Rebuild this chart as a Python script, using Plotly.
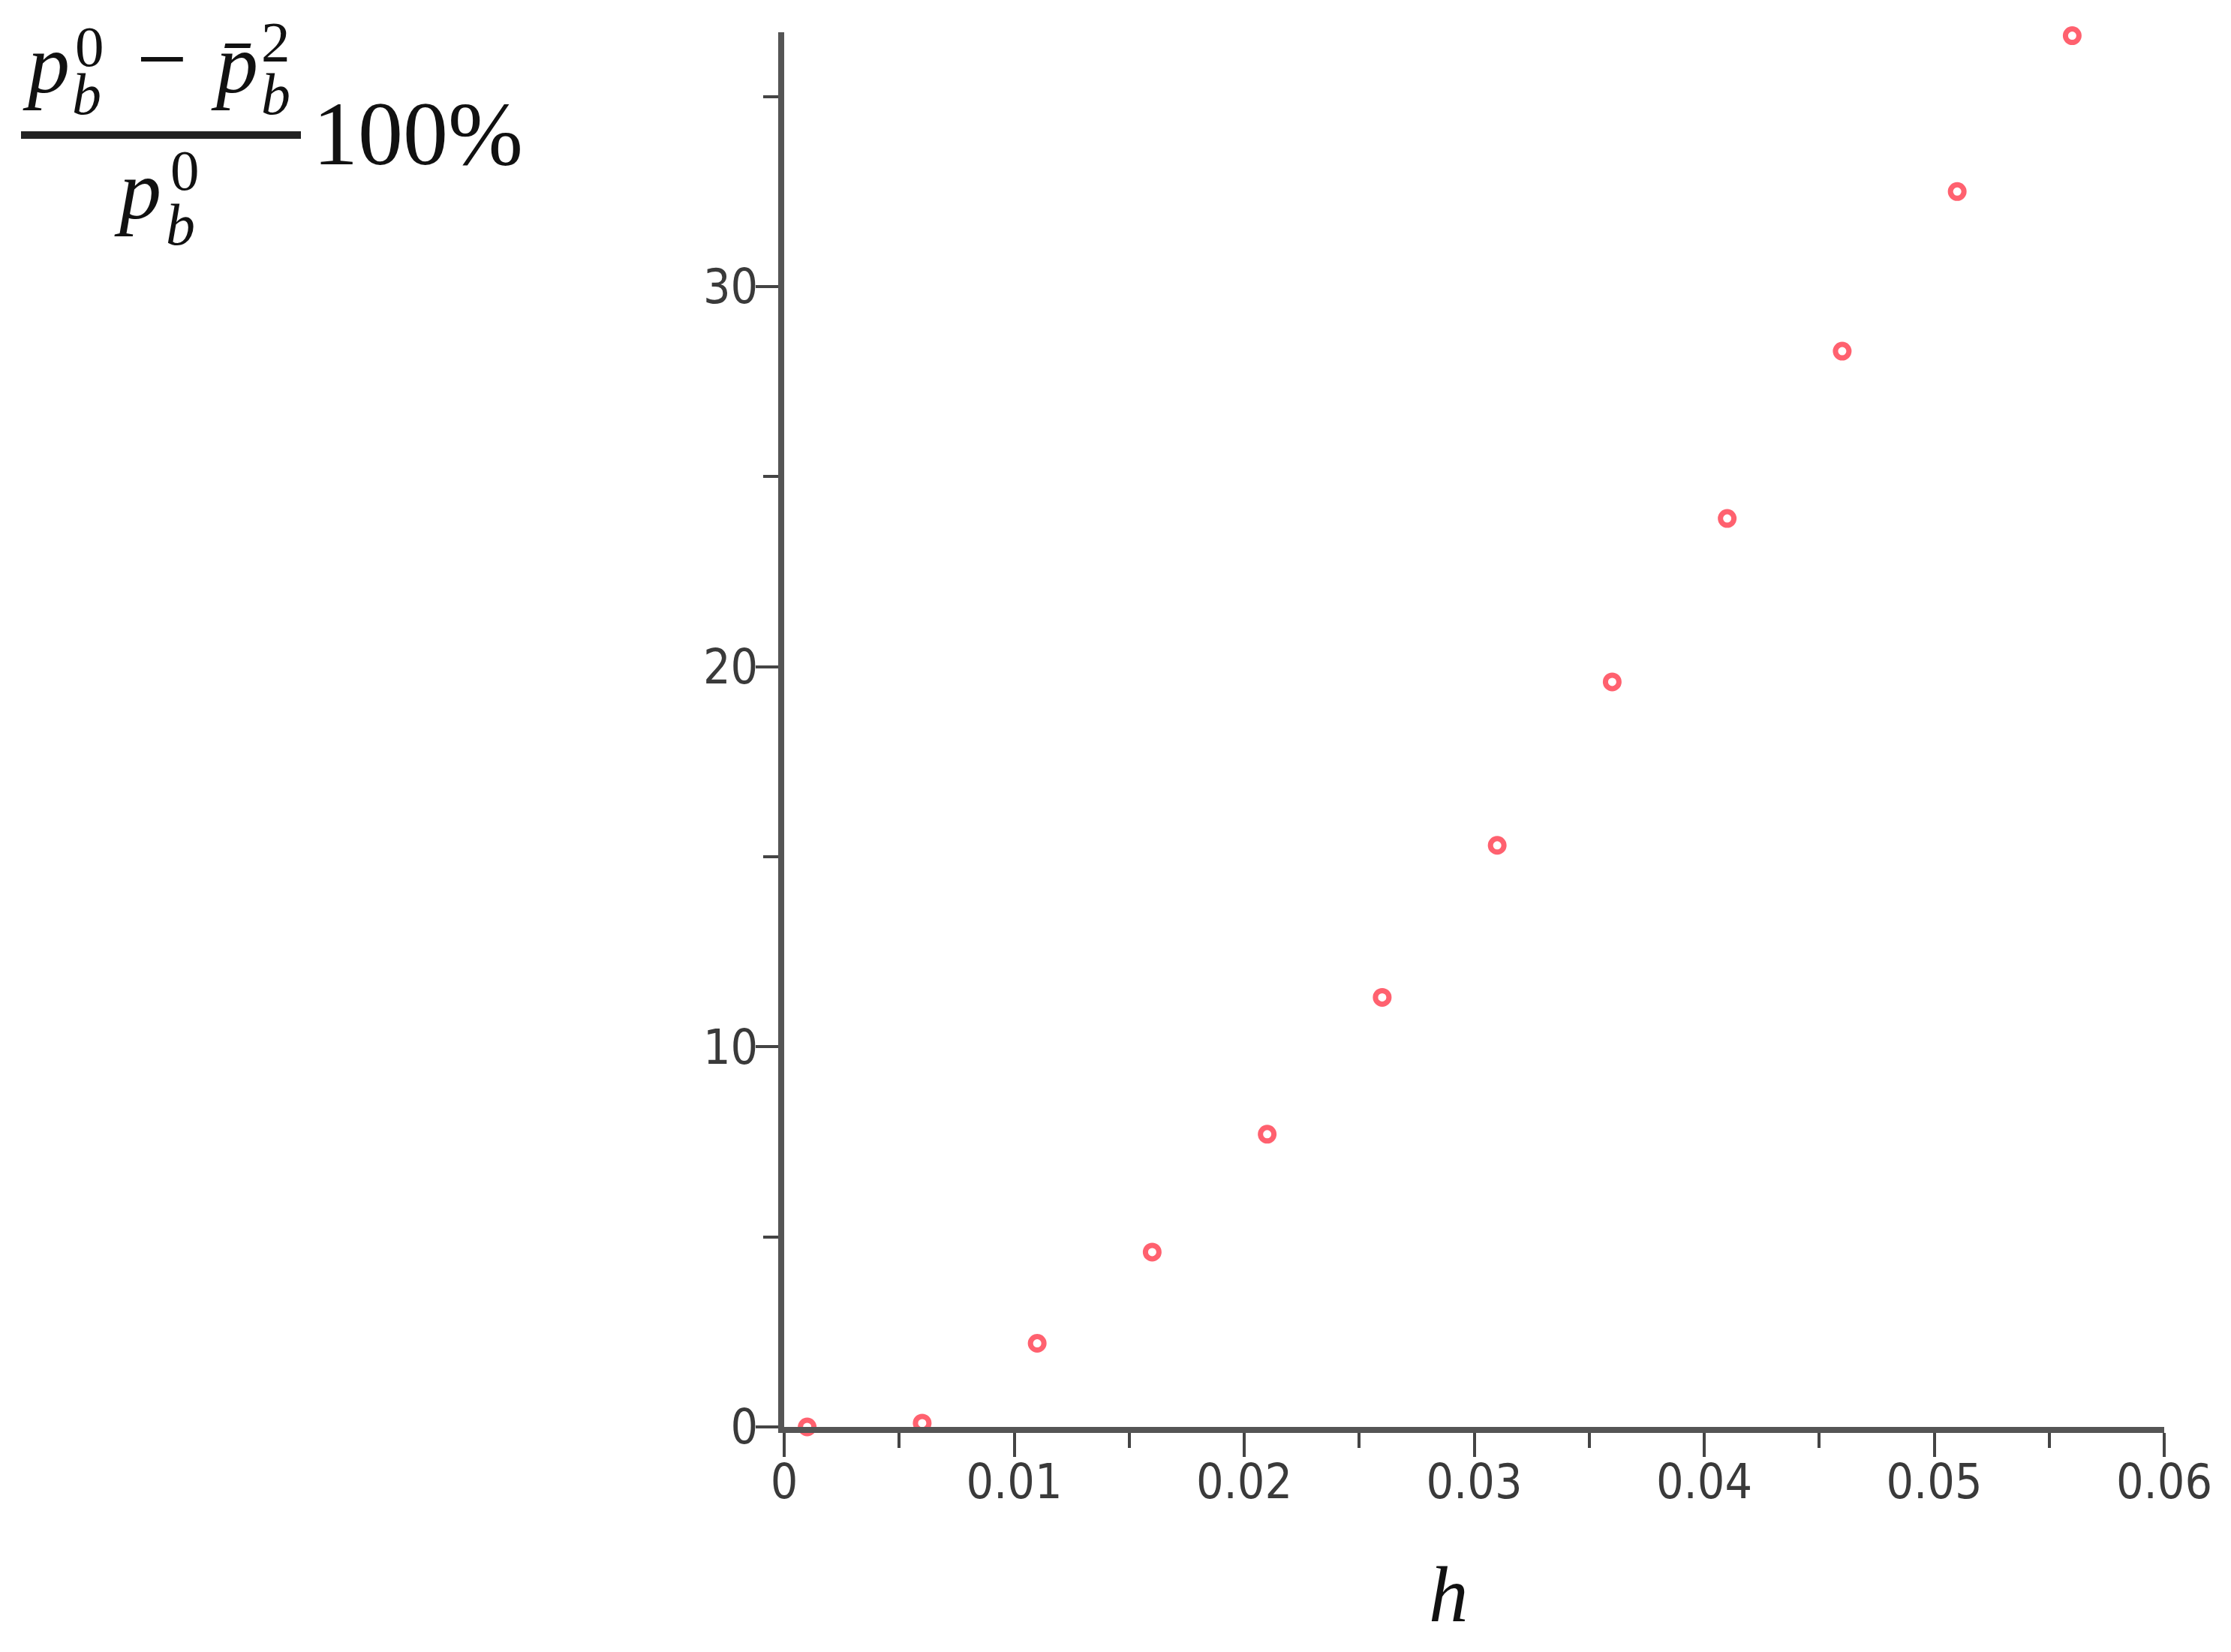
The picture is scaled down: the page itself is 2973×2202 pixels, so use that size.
import plotly.graph_objects as go

# ---- data ----
h_values = [0.001, 0.006, 0.011, 0.016, 0.021, 0.026, 0.031, 0.036, 0.041, 0.046, 0.051, 0.056]
rel_error_pct = [0.0, 0.1, 2.2, 4.6, 7.7, 11.3, 15.3, 19.6, 23.9, 28.3, 32.5, 36.6]
x_tick_vals = [0, 0.01, 0.02, 0.03, 0.04, 0.05, 0.06]
x_tick_text = ["0", "0.01", "0.02", "0.03", "0.04", "0.05", "0.06"]
y_tick_vals = [0, 10, 20, 30]
y_tick_text = ["0", "10", "20", "30"]

W, H = 2973, 2202
OFF = 8  # page offset of the figure div
L, R, T, B = 1045 - OFF, 2884 - OFF, 43 - OFF, 1902 - OFF  # plot-area edges inside the figure

def px(x):
    return (x - OFF - L) / (R - L)

def py(y):
    return (B - (y - OFF)) / (B - T)

TICKFONT = dict(family="Liberation Sans Narrow, DejaVu Sans Condensed, Arial Narrow, sans-serif",
                size=64, color="#3a3a3a")
MATH = "Liberation Serif, DejaVu Serif, serif"

fig = go.Figure()
fig.add_trace(go.Scatter(
    x=h_values, y=rel_error_pct, mode="markers",
    marker=dict(symbol="circle-open", size=18, color="rgba(255,80,95,0.9)",
                line=dict(width=7, color="rgba(255,80,95,0.85)")),
    cliponaxis=False, showlegend=False,
))

fig.update_layout(
    width=W, height=H,
    margin=dict(l=L, r=W - R, t=T, b=H - B, pad=0),
    paper_bgcolor="white", plot_bgcolor="white",
    xaxis=dict(range=[0, 0.06], tickvals=x_tick_vals, ticktext=x_tick_text,
               showline=True, linecolor="#555555", linewidth=8,
               ticks="outside", ticklen=32, tickwidth=4, tickcolor="#444444",
               minor=dict(dtick=0.005, tick0=0, ticks="outside", ticklen=20, tickwidth=4, tickcolor="#444444"),
               showgrid=False, zeroline=False, tickfont=TICKFONT, ticklabelstandoff=-22),
    yaxis=dict(range=[0, 36.69], tickvals=y_tick_vals, ticktext=y_tick_text,
               showline=True, linecolor="#555555", linewidth=8,
               ticks="outside", ticklen=30, tickwidth=4, tickcolor="#444444",
               minor=dict(dtick=5, tick0=0, ticks="outside", ticklen=20, tickwidth=4, tickcolor="#444444"),
               showgrid=False, zeroline=False, tickfont=TICKFONT, ticklabelstandoff=-16),
)

def glyph(text, xc, yc, size, italic=False, family=MATH):
    fig.add_annotation(
        x=px(xc), y=py(yc), xref="paper", yref="paper",
        text=("<i>%s</i>" % text) if italic else text,
        showarrow=False, xanchor="center", yanchor="middle",
        font=dict(family=family, size=size, color="#111111"),
    )

# y-axis label: (p_b^0 - p̄_b^2) / p_b^0 · 100%
glyph("p", 61, 85, 112, italic=True)
glyph("0", 119, 62, 77)
glyph("b", 115, 126, 78, italic=True)
glyph("−", 216, 78, 120)
glyph("p\u0304", 312, 85, 112, italic=True)
glyph("2", 367, 56, 77)
glyph("b", 367, 126, 78, italic=True)
glyph("100%", 557, 178, 120)
glyph("p", 183, 253, 112, italic=True)
glyph("0", 246, 227, 77)
glyph("b", 240, 299, 78, italic=True)
fig.add_shape(type="line", xref="paper", yref="paper",
              x0=px(28), x1=px(401), y0=py(180), y1=py(180),
              line=dict(color="#222222", width=10))

# x-axis label
glyph("h", 1930, 2125, 105, italic=True)

fig.write_html("out.html", config={"displayModeBar": False})
